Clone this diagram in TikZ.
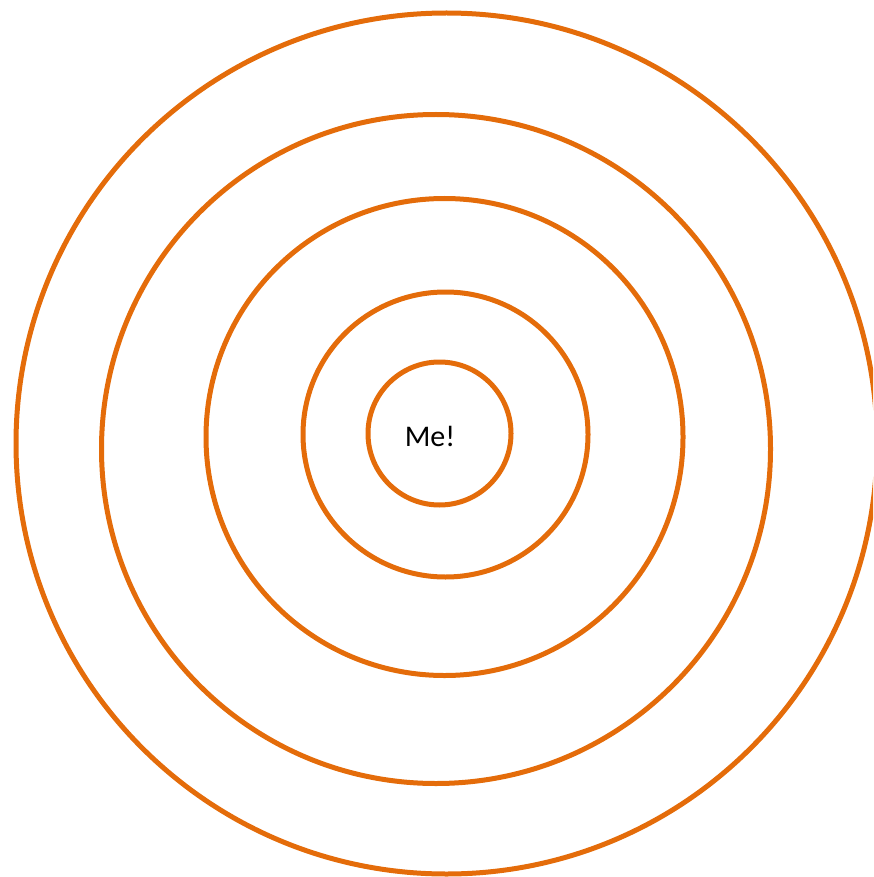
\documentclass[tikz,border=0pt]{standalone}
\usepackage{fontspec}
\setmainfont{Carlito}
\definecolor{ringorange}{RGB}{228,108,10}
\begin{document}
\begin{tikzpicture}[x=1pt,y=-1pt,
  ring/.style={draw=ringorange,line width=5pt}]
\useasboundingbox (0,0) rectangle (873,877);
\clip (0,0) rectangle (873,877);
\draw[ring] (446.5,443.5) circle[radius=430.5];
\draw[ring] (436,449) circle[radius=334.5];
\draw[ring] (444.5,437) circle[radius=238.5];
\draw[ring] (445.5,434.5) circle[radius=142.5];
\draw[ring] (439.5,433.5) circle[radius=71.5];
\node[font=\fontsize{30}{36}\selectfont, inner sep=0pt] (me) at (430,436) {Me!};
\end{tikzpicture}
\end{document}
